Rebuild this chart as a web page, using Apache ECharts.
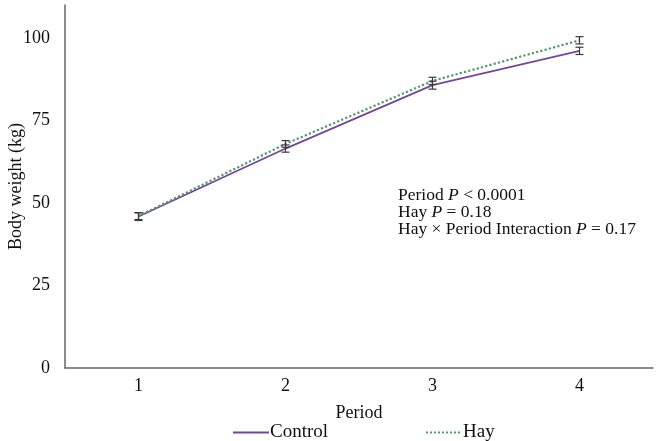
<!DOCTYPE html>
<html>
<head>
<meta charset="utf-8">
<script src="https://cdn.jsdelivr.net/npm/echarts@6/dist/echarts.min.js"></script>
<style>
html, body { margin: 0; padding: 0; background: #fff; }
#main { width: 660px; height: 441px; }
</style>
</head>
<body>
<div id="main"></div>
<script>
var periods = ['1', '2', '3', '4'];
var controlMean = [45.9, 66.5, 85.7, 96.1];
var controlErr = [1.2, 1.1, 1.2, 1.1];
var hayMean = [46.0, 67.9, 87.0, 99.3];
var hayErr = [1.0, 1.0, 1.1, 1.1];
var yTicks = [0, 25, 50, 75, 100];

var dom = document.getElementById('main');
var myChart = echarts.init(dom);

function errorData(means, errs) {
    return means.map(function (m, i) {
        return [i, m - errs[i], m + errs[i]];
    });
}

function renderErr(params, api) {
    var x = api.value(0);
    var lo = api.coord([x, api.value(1)]);
    var hi = api.coord([x, api.value(2)]);
    var w = 4;
    var style = { stroke: '#3a3a3a', lineWidth: 1.2 };
    return {
        type: 'group',
        children: [
            { type: 'line', shape: { x1: lo[0], y1: lo[1], x2: hi[0], y2: hi[1] }, style: style },
            { type: 'line', shape: { x1: lo[0] - w, y1: lo[1], x2: lo[0] + w, y2: lo[1] }, style: style },
            { type: 'line', shape: { x1: hi[0] - w, y1: hi[1], x2: hi[0] + w, y2: hi[1] }, style: style }
        ]
    };
}

var serif = 'Liberation Serif';

option = {
    textStyle: { fontFamily: serif },
    grid: { left: 65, right: 7, top: 5, bottom: 73, outerBoundsMode: 'none' },
    legend: {
        data: ['Control', 'Hay'],
        left: 227,
        top: 418,
        itemWidth: 36,
        itemHeight: 14,
        itemGap: 97,
        itemStyle: { opacity: 0 },
        textStyle: { fontFamily: serif, fontSize: 19, color: '#111', padding: [0, 0, 0, -4] }
    },
    xAxis: {
        type: 'category',
        data: periods,
        name: 'Period',
        nameLocation: 'middle',
        nameGap: 36,
        nameTextStyle: { fontFamily: serif, fontSize: 18, color: '#111' },
        axisLine: { lineStyle: { color: '#666', width: 1.5 } },
        axisTick: { show: false },
        axisLabel: { fontFamily: serif, fontSize: 18, color: '#111', margin: 9 }
    },
    yAxis: {
        type: 'value',
        min: 0,
        max: 110,
        interval: 25,
        name: 'Body weight (kg)',
        nameLocation: 'middle',
        nameGap: 40,
        nameMoveOverlap: false,
        nameTextStyle: { fontFamily: serif, fontSize: 18, color: '#111' },
        axisLine: { show: true, lineStyle: { color: '#666', width: 1.5 } },
        axisTick: { show: false },
        splitLine: { show: false },
        axisLabel: {
            fontFamily: serif, fontSize: 18, color: '#111', margin: 15,
            showMaxLabel: false,
            formatter: function (v) { return yTicks.indexOf(v) >= 0 ? v : ''; }
        }
    },
    series: [
        {
            name: 'Control',
            type: 'line',
            data: controlMean,
            symbol: 'none',
            color: '#74479a',
            lineStyle: { color: '#74479a', width: 1.8 }
        },
        {
            name: 'Hay',
            type: 'line',
            data: hayMean,
            symbol: 'none',
            color: '#4d9a6a',
            lineStyle: { color: '#4d9a6a', width: 2.2, type: 'dotted' }
        },
        {
            type: 'custom',
            renderItem: renderErr,
            data: errorData(controlMean, controlErr),
            z: 5,
            silent: true
        },
        {
            type: 'custom',
            renderItem: renderErr,
            data: errorData(hayMean, hayErr),
            z: 5,
            silent: true
        }
    ],
    graphic: [
        {
            type: 'text', left: 398, top: 186,
            style: {
                text: 'Period {i|P} < 0.0001\nHay {i|P} = 0.18\nHay × Period Interaction {i|P} = 0.17',
                font: '17.5px "Liberation Serif"', fill: '#111', lineHeight: 17,
                rich: { i: { fontStyle: 'italic', fontFamily: serif, fontSize: 17.5, lineHeight: 17 } }
            }
        }
    ]
};

if (option && typeof option === 'object') {
    myChart.setOption(option, true);
}
window.onresize = myChart.resize;
</script>
</body>
</html>
